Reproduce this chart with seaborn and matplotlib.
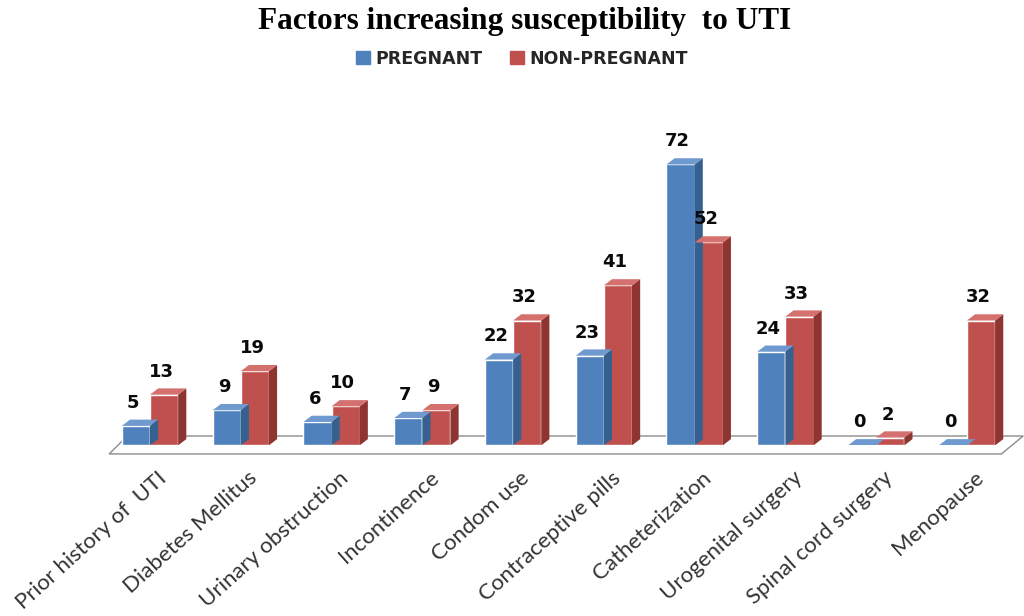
import matplotlib
matplotlib.use("Agg")
import matplotlib.pyplot as plt
import matplotlib.transforms as mtransforms
from matplotlib.patches import Polygon
import pandas as pd
import seaborn as sns

categorias = ["Prior history of  UTI", "Diabetes Mellitus", "Urinary obstruction",
              "Incontinence", "Condom use", "Contraceptive pills", "Catheterization",
              "Urogenital surgery", "Spinal cord surgery", "Menopause"]
embarazadas = [5, 9, 6, 7, 22, 23, 72, 24, 0, 0]
no_embarazadas = [13, 19, 10, 9, 32, 41, 52, 33, 2, 32]
grupos = ["PREGNANT", "NON-PREGNANT"]

COLORES = {"PREGNANT": "#4F81BD", "NON-PREGNANT": "#C0504D"}
LADOS = {"PREGNANT": "#36608F", "NON-PREGNANT": "#8E3431"}
TECHOS = {"PREGNANT": "#6F9AD0", "NON-PREGNANT": "#D4706D"}

df = pd.DataFrame({
    "factor": categorias * 2,
    "grupo": [grupos[0]] * len(categorias) + [grupos[1]] * len(categorias),
    "valor": embarazadas + no_embarazadas,
})

sns.set_style("white")
plt.rcParams["font.family"] = ["Liberation Sans", "DejaVu Sans"]

fig = plt.figure(figsize=(10.24, 6.16), dpi=100)
ax = fig.add_axes([0.1066, 0.277, 0.882, 0.494])

sns.barplot(data=df, x="factor", y="valor", hue="grupo", hue_order=grupos,
            palette=COLORES, width=0.62, gap=0, saturation=1, ax=ax,
            legend=False, errorbar=None, zorder=3)

ax.set_ylim(0, 78)
ax.set_xlim(-0.45, len(categorias) - 0.5)

# profundidad falsa tipo excel 3D
dx, dy = 0.09, 1.6
for cont, g in zip(ax.containers, grupos):
    for bar, v in zip(cont, cont.datavalues):
        x0 = bar.get_x()
        x1 = x0 + bar.get_width()
        y1 = bar.get_height()
        lado = Polygon([(x1, 0), (x1 + dx, dy), (x1 + dx, y1 + dy), (x1, y1)],
                       closed=True, facecolor=LADOS[g], edgecolor="none", zorder=3)
        techo = Polygon([(x0, y1), (x0 + dx, y1 + dy), (x1 + dx, y1 + dy), (x1, y1)],
                        closed=True, facecolor=TECHOS[g], edgecolor="none", zorder=3)
        ax.add_patch(lado)
        ax.add_patch(techo)
        ax.text(x0 + bar.get_width() * 0.4, y1 + dy + 2.0, f"{int(v)}",
                ha="center", va="bottom", fontsize=13, fontweight="bold",
                family="DejaVu Sans", color="#0a0a0a", zorder=5)

# piso
xl = ax.get_xlim()
piso = Polygon([(xl[0], -2.2), (xl[1] - 0.12, -2.2), (xl[1] + 0.12, 2.4), (xl[0] + 0.2, 2.4)],
               closed=True, facecolor="white", edgecolor="#8c8c8c", lw=1.0,
               zorder=1, clip_on=False)
ax.add_patch(piso)

for s in ax.spines.values():
    s.set_visible(False)
ax.set_yticks([])
ax.set_xlabel("")
ax.set_ylabel("")
ax.tick_params(axis="x", length=0, pad=16)
offset = mtransforms.ScaledTranslation(0.07, 0, fig.dpi_scale_trans)
for lbl in ax.get_xticklabels():
    lbl.set_rotation(42)
    lbl.set_ha("right")
    lbl.set_rotation_mode("anchor")
    lbl.set_fontsize(16)
    lbl.set_family(["Lato", "DejaVu Sans"])
    lbl.set_color("#333333")
    lbl.set_transform(lbl.get_transform() + offset)

fig.text(0.512, 0.965, "Factors increasing susceptibility  to UTI", ha="center", va="center",
         fontsize=22.5, fontweight="bold", family="Liberation Serif", color="black")

handles = [plt.Rectangle((0, 0), 1, 1, color=COLORES[g]) for g in grupos]
fig.legend(handles, grupos, loc="center", bbox_to_anchor=(0.51, 0.905), ncol=2,
           frameon=False, handlelength=0.8, handleheight=0.7, columnspacing=1.6,
           handletextpad=0.3, prop={"weight": "bold", "size": 12.5, "family": "DejaVu Sans"})

fig.savefig("out.png", dpi=100)
